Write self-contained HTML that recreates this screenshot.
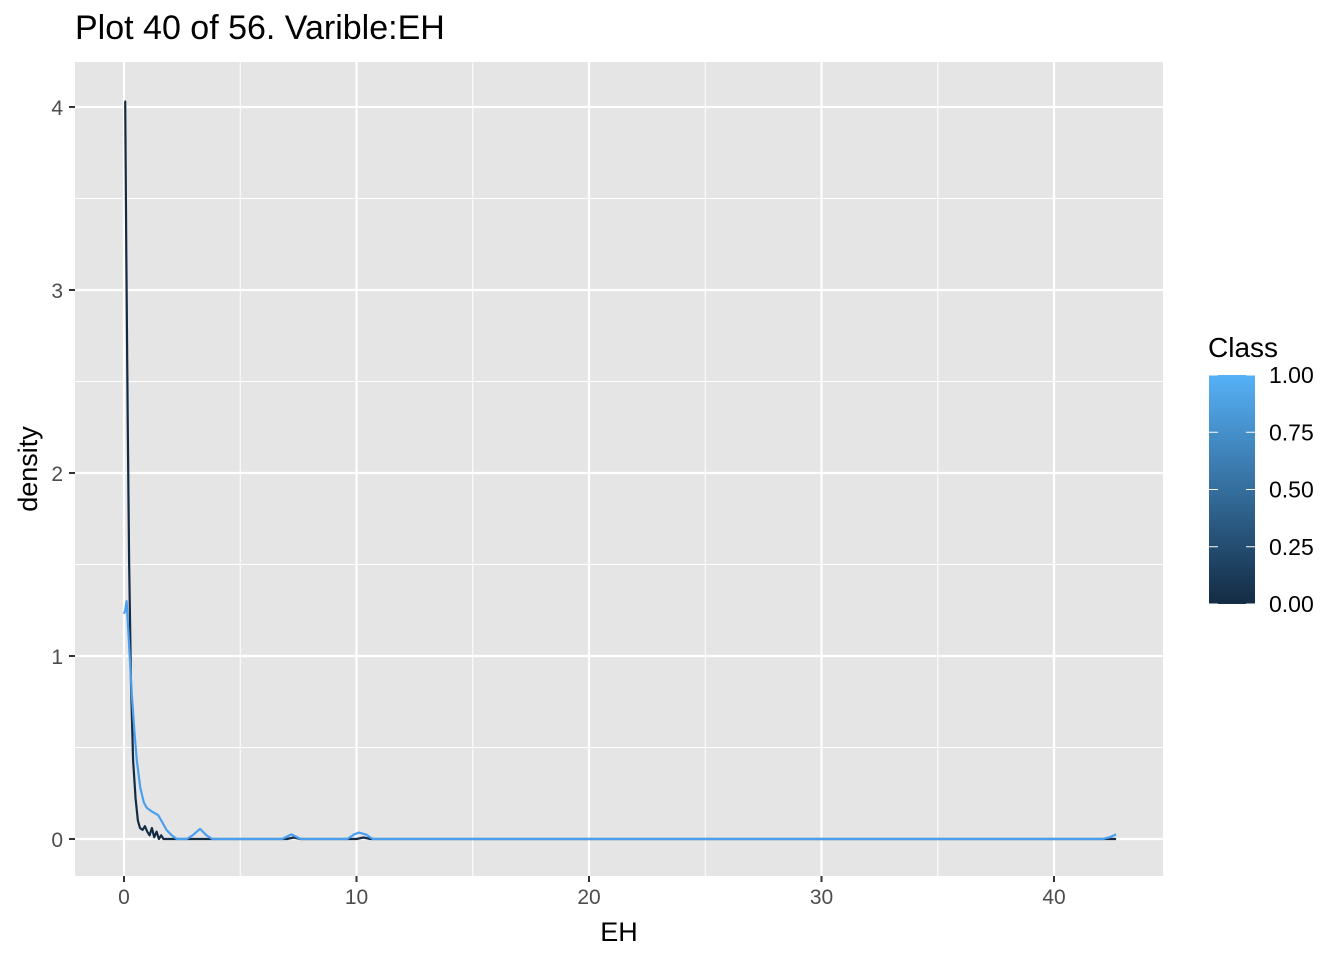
<!DOCTYPE html>
<html><head><meta charset="utf-8"><style>
body{margin:0;background:#fff;font-family:"Liberation Sans",Arial,sans-serif}
svg text{font-family:"Liberation Sans",Arial,sans-serif}
</style></head><body>
<svg id="chart" width="1344" height="960" xmlns="http://www.w3.org/2000/svg">
<defs><linearGradient id="lg" x1="0" y1="1" x2="0" y2="0">
<stop offset="0" stop-color="#132B43"/><stop offset="1" stop-color="#56B1F7"/></linearGradient></defs>
<text x="75" y="39" font-size="34" fill="#000">Plot 40 of 56. Varible:EH</text>
<rect x="75" y="62" width="1088" height="814" style="fill:#e5e5e5"/>
<g id="grid"></g>
<g id="series"></g>
<g id="axes"></g>
<text x="619" y="941" font-size="27" text-anchor="middle">EH</text>
<text transform="translate(37,469) rotate(-90)" font-size="27" text-anchor="middle">density</text>
<g>
<text x="1208" y="357" font-size="28">Class</text>
<rect x="1209" y="375" width="46" height="229" fill="url(#lg)"/>
<g id="legticks"></g>
</g>
</svg>
<script>
const xTicks=[0,10,20,30,40];
const yTicks=[0,1,2,3,4];
const legendLabels=["0.00","0.25","0.50","0.75","1.00"];
const legendValues=[0,0.25,0.5,0.75,1];
const class0X=[0.02,0.05,0.1,0.16,0.22,0.3,0.39,0.5,0.6,0.69,0.8,0.9,1.0,1.1,1.2,1.3,1.4,1.5,1.6,1.7,2.0,3.0,7.0,7.3,7.6,10.0,10.3,10.6,20,30,42.0,42.67];
const class0Y=[4.03,4.03,3.2,2.3,1.52,0.85,0.43,0.22,0.1,0.06,0.05,0.07,0.04,0.02,0.06,0.01,0.04,0.0,0.02,0.0,0.0,0.0,0.0,0.008,0.0,0.0,0.008,0.0,0.0,0.0,0.0,0.0];
const class1X=[0.0,0.05,0.11,0.2,0.33,0.45,0.55,0.7,0.85,0.98,1.2,1.47,1.65,1.83,2.05,2.27,2.7,2.95,3.27,3.55,3.8,6.8,7.2,7.6,9.6,9.9,10.1,10.4,10.7,20,30,42.1,42.4,42.67];
const class1Y=[1.23,1.25,1.30,1.1,0.80,0.58,0.43,0.28,0.2,0.17,0.15,0.13,0.09,0.05,0.02,0.0,0.0,0.02,0.055,0.02,0.0,0.0,0.025,0.0,0.0,0.025,0.035,0.025,0.0,0.0,0.0,0.0,0.01,0.025];
const NS="http://www.w3.org/2000/svg";
const L=75,R=1163,T=62,B=876;
const xs=v=>124+v*23.25;
const ys=v=>839-v*183;
function mk(tag,attrs,parent){const e=document.createElementNS(NS,tag);for(const k in attrs)e.setAttribute(k,attrs[k]);parent.appendChild(e);return e;}
const grid=document.getElementById('grid'),axes=document.getElementById('axes'),series=document.getElementById('series');
xTicks.forEach(t=>{
 const m=t+5;if(xs(m)<R){const g=mk('line',{x1:xs(m),x2:xs(m),y1:T,y2:B,stroke:'#fff','stroke-width':1},grid);}
 const g=mk('line',{x1:xs(t),x2:xs(t),y1:T,y2:B,stroke:'#fff','stroke-width':2.2},grid);
 
 const tk=mk('line',{x1:xs(t),x2:xs(t),y1:B,y2:B+6,stroke:'#333','stroke-width':2},axes);
 
 const tx=mk('text',{x:xs(t),y:B+28,'font-size':21,fill:'#4d4d4d','text-anchor':'middle'},axes);tx.textContent=t;
 
});
yTicks.forEach(t=>{
 const m=t+0.5;if(ys(m)>T){const g=mk('line',{x1:L,x2:R,y1:ys(m),y2:ys(m),stroke:'#fff','stroke-width':1},grid);}
 const g=mk('line',{x1:L,x2:R,y1:ys(t),y2:ys(t),stroke:'#fff','stroke-width':2.2},grid);
 
 const tk=mk('line',{x1:L-6,x2:L,y1:ys(t),y2:ys(t),stroke:'#333','stroke-width':2},axes);
 
 const tx=mk('text',{x:L-12,y:ys(t)+8,'font-size':21,fill:'#4d4d4d','text-anchor':'end'},axes);tx.textContent=t;
 
});
function line(X,Y,color,name){
 const d=X.map((x,i)=>(i?'L':'M')+xs(x).toFixed(1)+','+ys(Y[i]).toFixed(1)).join('');
 const p=mk('path',{d:d,fill:'none',stroke:color,'stroke-width':2.2,'stroke-linejoin':'round'},series);
 
}
line(class0X,class0Y,'#132B43','density-line-class-0');
line(class1X,class1Y,'#4a9ff0','density-line-class-1');
const lt=document.getElementById('legticks');
legendValues.forEach((v,i)=>{
 const y=604-v*229;
 const a=mk('line',{x1:1209,x2:1218,y1:y,y2:y,stroke:'#fff','stroke-width':1},lt);
 const b=mk('line',{x1:1246,x2:1255,y1:y,y2:y,stroke:'#fff','stroke-width':1},lt);
 const t=mk('text',{x:1269,y:y+8,'font-size':23,fill:'#000'},lt);t.textContent=legendLabels[i];
 
});
</script>
</body></html>
